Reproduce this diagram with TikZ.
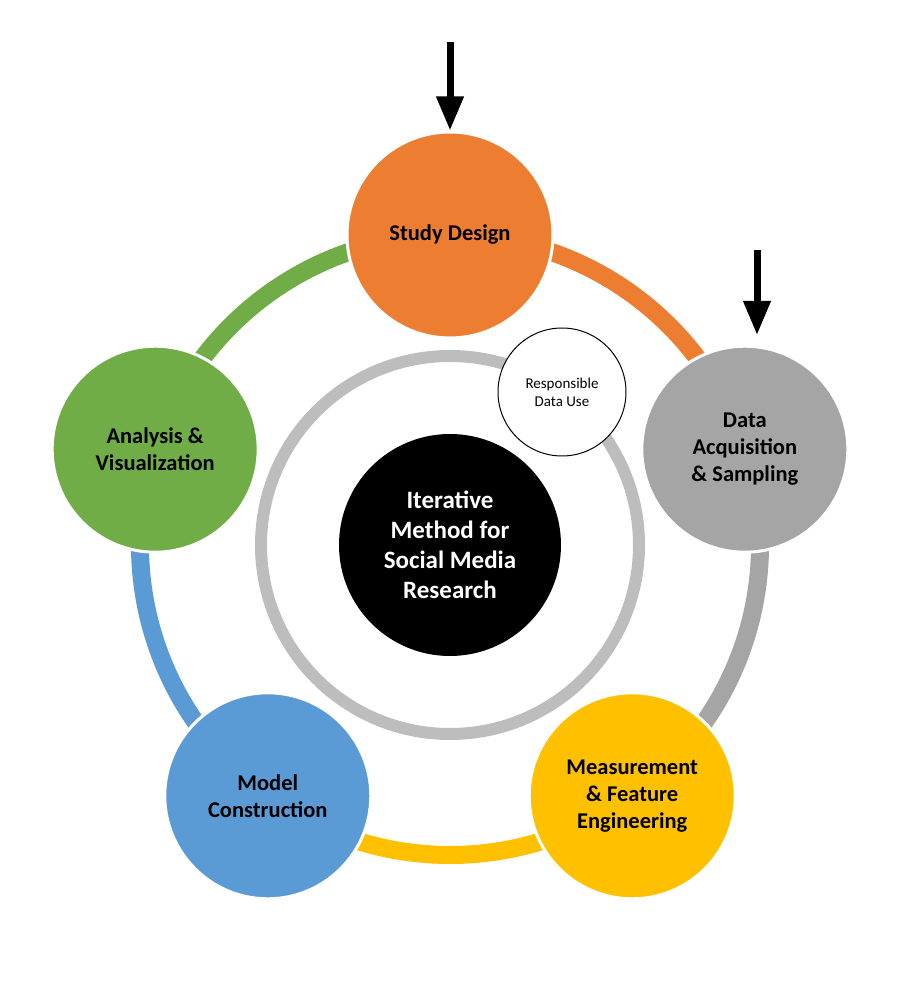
\documentclass[tikz,border=0pt]{standalone}
\usepackage{fontspec}
\setmainfont{Carlito}
\usetikzlibrary{arrows.meta}
\definecolor{cOr}{HTML}{ED7D31}
\definecolor{cGr}{HTML}{A5A5A5}
\definecolor{cYe}{HTML}{FFC000}
\definecolor{cBl}{HTML}{5B9BD5}
\definecolor{cGn}{HTML}{70AD47}
\definecolor{cRing}{HTML}{BDBDBD}
\begin{document}
\begin{tikzpicture}[x=1pt,y=1pt,
 stage/.style={circle,minimum size=206pt,draw=white,line width=3pt,inner sep=0pt,align=center,font=\fontsize{22.5}{27}\selectfont\bfseries,text=black},
 seg/.style={line width=18pt},
 arr/.style={line width=7pt,-{Triangle[width=26pt,length=34pt]}}]
\useasboundingbox (-450,-463) rectangle (450,545);
\draw[seg,cOr] (90:310) arc (90:18:310);
\draw[seg,cGr] (18:310) arc (18:-54:310);
\draw[seg,cYe] (-54:310) arc (-54:-126:310);
\draw[seg,cBl] (-126:310) arc (-126:-198:310);
\draw[seg,cGn] (162:310) arc (162:90:310);
\draw[cRing,line width=12pt] (0,0) circle (189);
\node[circle,fill=black,minimum size=222pt,inner sep=0pt,align=center,text=white,font=\fontsize{25}{30}\selectfont\bfseries] (c) at (0,0) {Iterative\\Method for\\Social Media\\Research};
\node[circle,fill=white,draw=black,line width=1pt,minimum size=128pt,inner sep=0pt,align=center,font=\fontsize{15}{18}\selectfont] (r) at (112,153) {Responsible\\Data Use};
\node[stage,fill=cOr] (s) at (90:310) {Study Design};
\node[stage,fill=cGr] (d) at (18:310) {Data\\Acquisition\\\& Sampling};
\node[stage,fill=cYe] (m) at (-54:310) {Measurement\\\& Feature\\Engineering};
\node[stage,fill=cBl] (mc) at (-126:310) {Model\\Construction};
\node[stage,fill=cGn] (a) at (162:310) {Analysis \&\\Visualization};
\coordinate (t1) at (0,503);
\coordinate (t2) at (307,295);
\coordinate (h2) at (307,210);
\draw[arr] (t1) -- (s.north);
\draw[arr] (t2) -- (h2);
\end{tikzpicture}
\end{document}
